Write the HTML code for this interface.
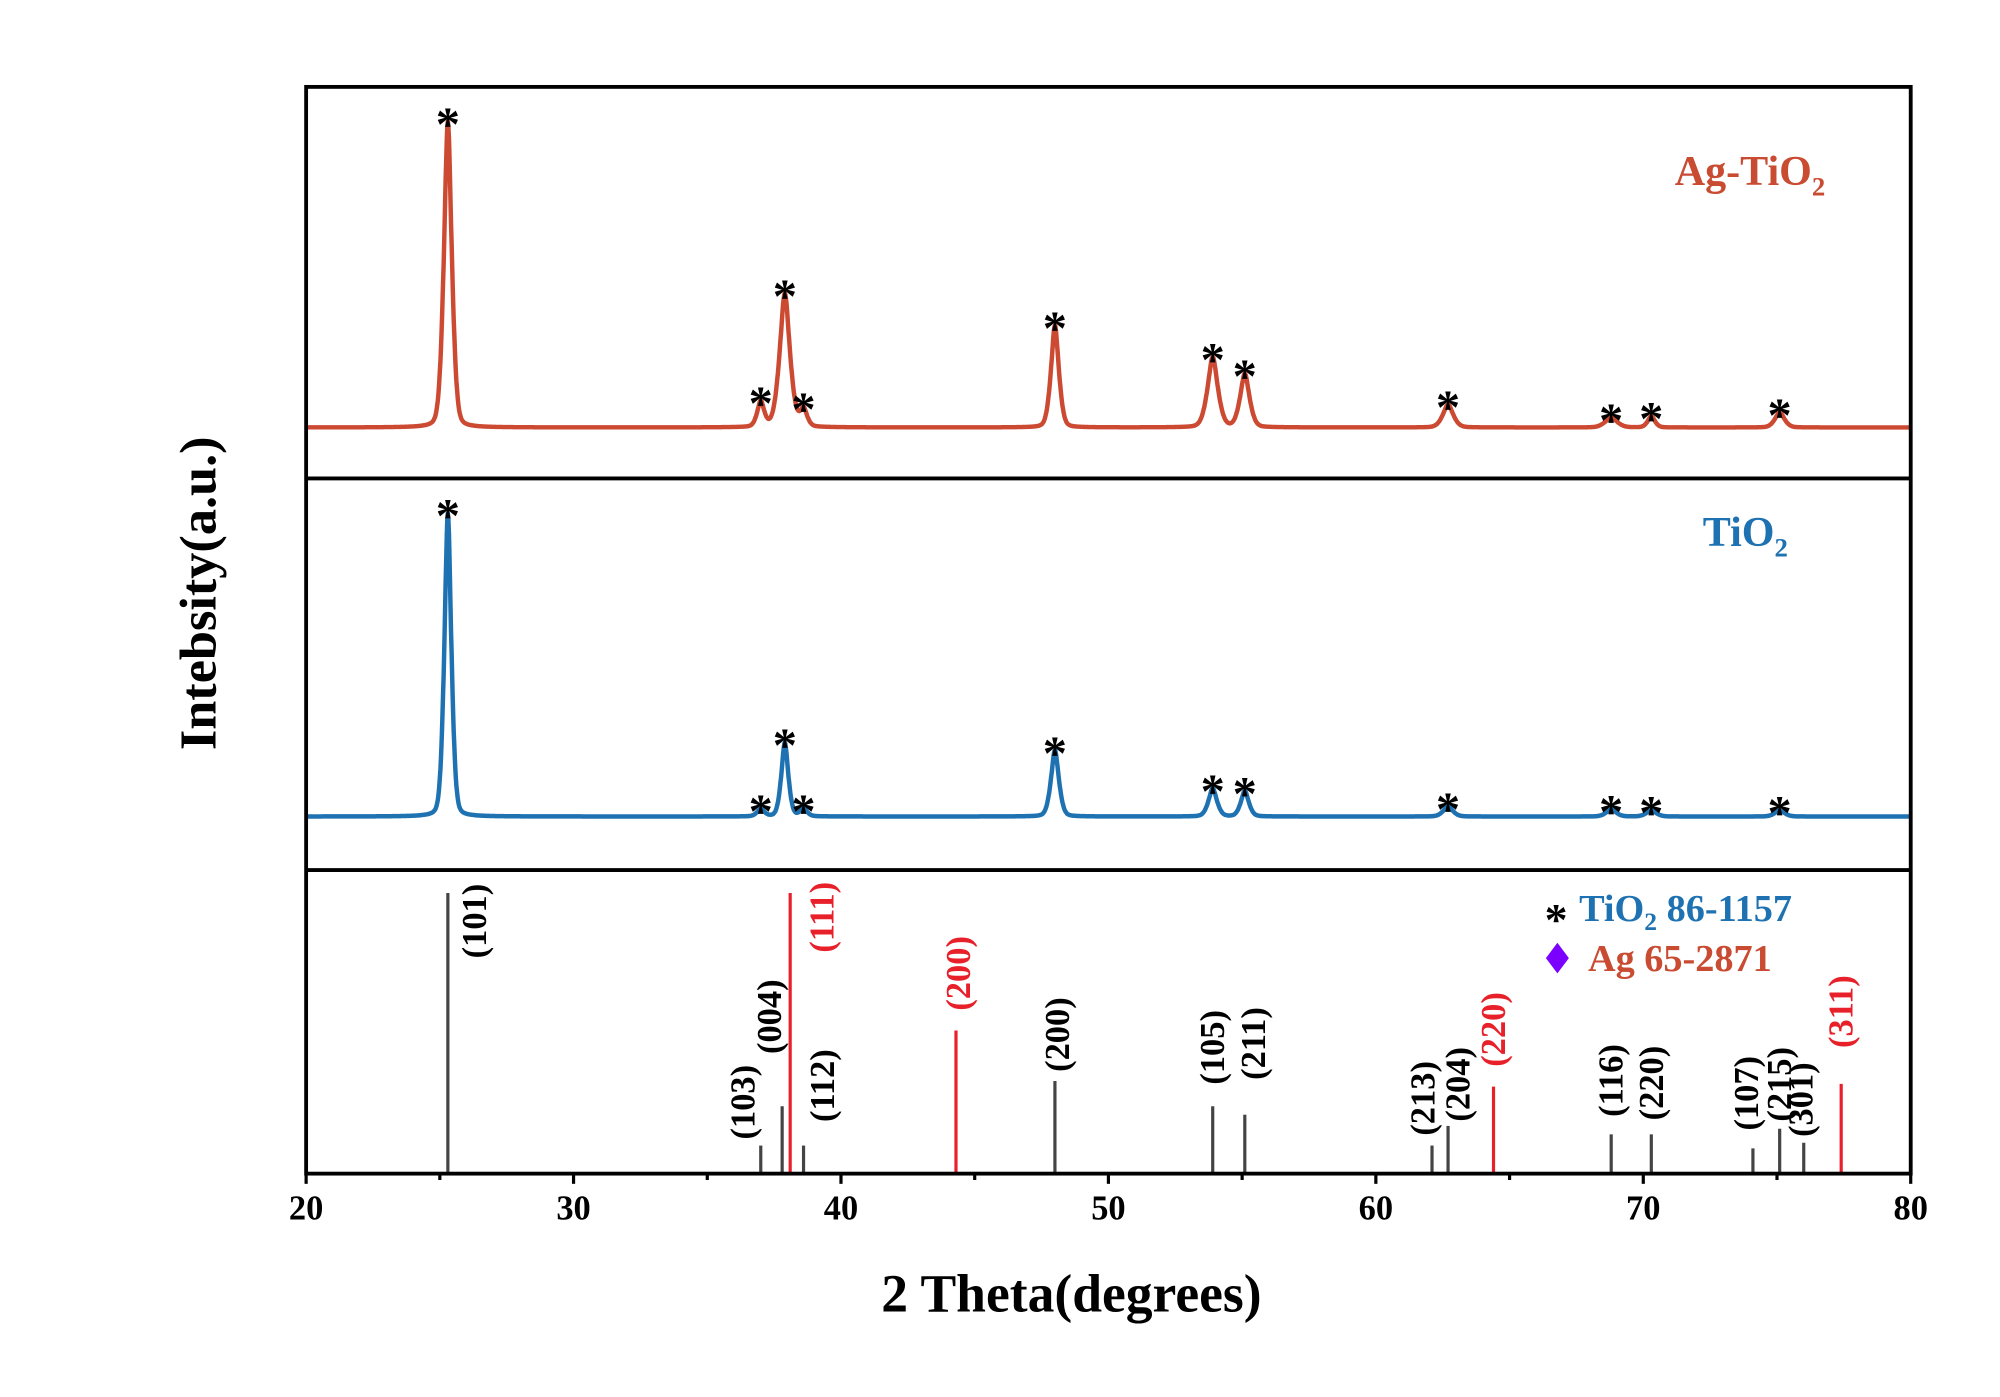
<!DOCTYPE html>
<html><head><meta charset="utf-8"><style>
html,body{margin:0;padding:0;background:#fff;}
svg{display:block;font-family:"Liberation Serif",serif;font-weight:bold;}
</style></head><body>
<svg id="chart" width="2000" height="1397" viewBox="0 0 1568 1095" xmlns="http://www.w3.org/2000/svg">
<g id="plot"></g>
</svg>
<script>
// ---- data ----
const xTicks = [20,30,40,50,60,70,80];
const agPeakPos = [25.3,37.0,37.9,38.6,48.0,53.9,55.1,62.7,68.8,70.3,75.1];
const agPeakH   = [240,20,105,14,80,55,42,18,8,9,12];
const agPeakW   = [0.17,0.15,0.22,0.15,0.17,0.22,0.2,0.22,0.25,0.15,0.2];
const tiPeakPos = [25.3,37.0,37.9,38.6,48.0,53.9,55.1,62.7,68.8,70.3,75.1];
const tiPeakH   = [238,6,58,6,52,22,20,8,6,5,5];
const tiPeakW   = [0.15,0.15,0.15,0.15,0.17,0.18,0.17,0.2,0.2,0.2,0.2];
const refPos    = [25.3,37.0,37.8,38.6,48.0,53.9,55.1,62.1,62.7,68.8,70.3,74.1,75.1,76.0,38.1,44.3,64.4,77.4];
const refInt    = [100,10,24,10,33,24,21,10,17,14,14,9,16,11,100,51,31,32];
const refLabel  = ["(101)","(103)","(004)","(112)","(200)","(105)","(211)","(213)","(204)","(116)","(220)","(107)","(215)","(301)","(111)","(200)","(220)","(311)"];
const refIsAg   = [0,0,0,0,0,0,0,0,0,0,0,0,0,0,1,1,1,1];
// label layout (px offsets, not data)
const refLabDx  = [21,-14,-10,15,2,0,7,-7,8,0,0,-5,0,-2,25,2,0,0];
const refLabCy  = [722,864,797,851,811,821,818,861,850,847,849,857,850,862,719,763,807,793];

const NS="http://www.w3.org/2000/svg";
const g=document.getElementById('plot');
function el(tag,attrs,parent){const e=document.createElementNS(NS,tag);for(const k in attrs)e.setAttribute(k,attrs[k]);(parent||g).appendChild(e);return e;}
const X0=240,X1=1498,D0=20,D1=80;
const xs=d=>X0+(d-D0)/(D1-D0)*(X1-X0);
const topBase=335, midBase=640, refBase=920, refScale=220/100;
const yTop=v=>topBase-v, yMid=v=>midBase-v, yRef=v=>refBase-v*refScale;

function curve(pos,h,w,x){let s=0;for(let i=0;i<pos.length;i++){const d=(x-pos[i])/w[i];s+=h[i]*(0.6*Math.exp(-0.5*d*d)+0.4/(1+d*d*2));}return s;}

function drawSeries(pos,h,w,ymap,color,name){
  let p="";for(let x=D0;x<=D1+1e-9;x+=0.02){p+=(p?"L":"M")+xs(x).toFixed(1)+","+ymap(curve(pos,h,w,x)).toFixed(1);}
  const path=el('path',{d:p,fill:'none',stroke:color,'stroke-width':3.5,'stroke-linejoin':'round'});
  
  
  for(let i=0;i<pos.length;i++){
    const t=el('text',{x:xs(pos[i]),y:ymap(curve(pos,h,w,pos[i]))+15,'font-size':38,'text-anchor':'middle',fill:'#000'});
    t.textContent='*';
    
    
  }
}
drawSeries(agPeakPos,agPeakH,agPeakW,yTop,'#cc4a32','ag-tio2-pattern');
drawSeries(tiPeakPos,tiPeakH,tiPeakW,yMid,'#1f72b2','tio2-pattern');

for(let i=0;i<refPos.length;i++){
  const c=refIsAg[i]?'#e8202a':'#444';
  const ln=el('line',{x1:xs(refPos[i]),x2:xs(refPos[i]),y1:refBase,y2:yRef(refInt[i]),stroke:c,'stroke-width':2.5});
  
  
  const lx=xs(refPos[i])+refLabDx[i], ly=refLabCy[i];
  const t=el('text',{x:0,y:0,'font-size':27,'text-anchor':'middle',fill:refIsAg[i]?'#e8202a':'#000',transform:`translate(${lx+9},${ly}) rotate(-90)`});
  t.textContent=refLabel[i];
  
  
}

// frame & dividers
const fr=el('rect',{x:X0,y:68,width:X1-X0,height:852,fill:'none',stroke:'#000','stroke-width':3});

[375,682].forEach(y=>{const l=el('line',{x1:X0,x2:X1,y1:y,y2:y,stroke:'#000','stroke-width':3});
});

for(let d=20;d<=80;d+=5){
  const major=d%10===0;
  const t=el('line',{x1:xs(d),x2:xs(d),y1:920,y2:major?928:925,stroke:'#000','stroke-width':2.5});
  
}
xTicks.forEach(d=>{const t=el('text',{x:xs(d),y:956,'font-size':27,'text-anchor':'middle'});t.textContent=d;
});

let t=el('text',{x:840,y:1028,'font-size':42,'text-anchor':'middle'});t.textContent='2 Theta(degrees)';

t=el('text',{x:0,y:0,'font-size':41,'text-anchor':'middle',transform:'translate(169,465) rotate(-90)'});t.textContent='Intebsity(a.u.)';

</script>
<svg style="position:absolute;left:0;top:0" width="2000" height="1397" viewBox="0 0 1568 1095" font-family="Liberation Serif, serif" font-weight="bold">
<text x="1313" y="145" font-size="33" fill="#c84b32">Ag-TiO<tspan font-size="21" dy="8">2</tspan></text>
<text x="1335" y="428" font-size="33" fill="#1f72b2">TiO<tspan font-size="21" dy="8">2</tspan></text>
<text x="1220" y="733" font-size="36" text-anchor="middle" fill="#000">*</text>
<text x="1238" y="722" font-size="30" fill="#1f72b2">TiO<tspan font-size="20" dy="7">2</tspan><tspan dy="-7"> 86-1157</tspan></text>
<polygon points="1221,739 1230,751 1221,763 1212,751" fill="#7b00ff"/>
<text x="1245" y="761" font-size="30" fill="#c84b32">Ag 65-2871</text>
</svg>
</body></html>
